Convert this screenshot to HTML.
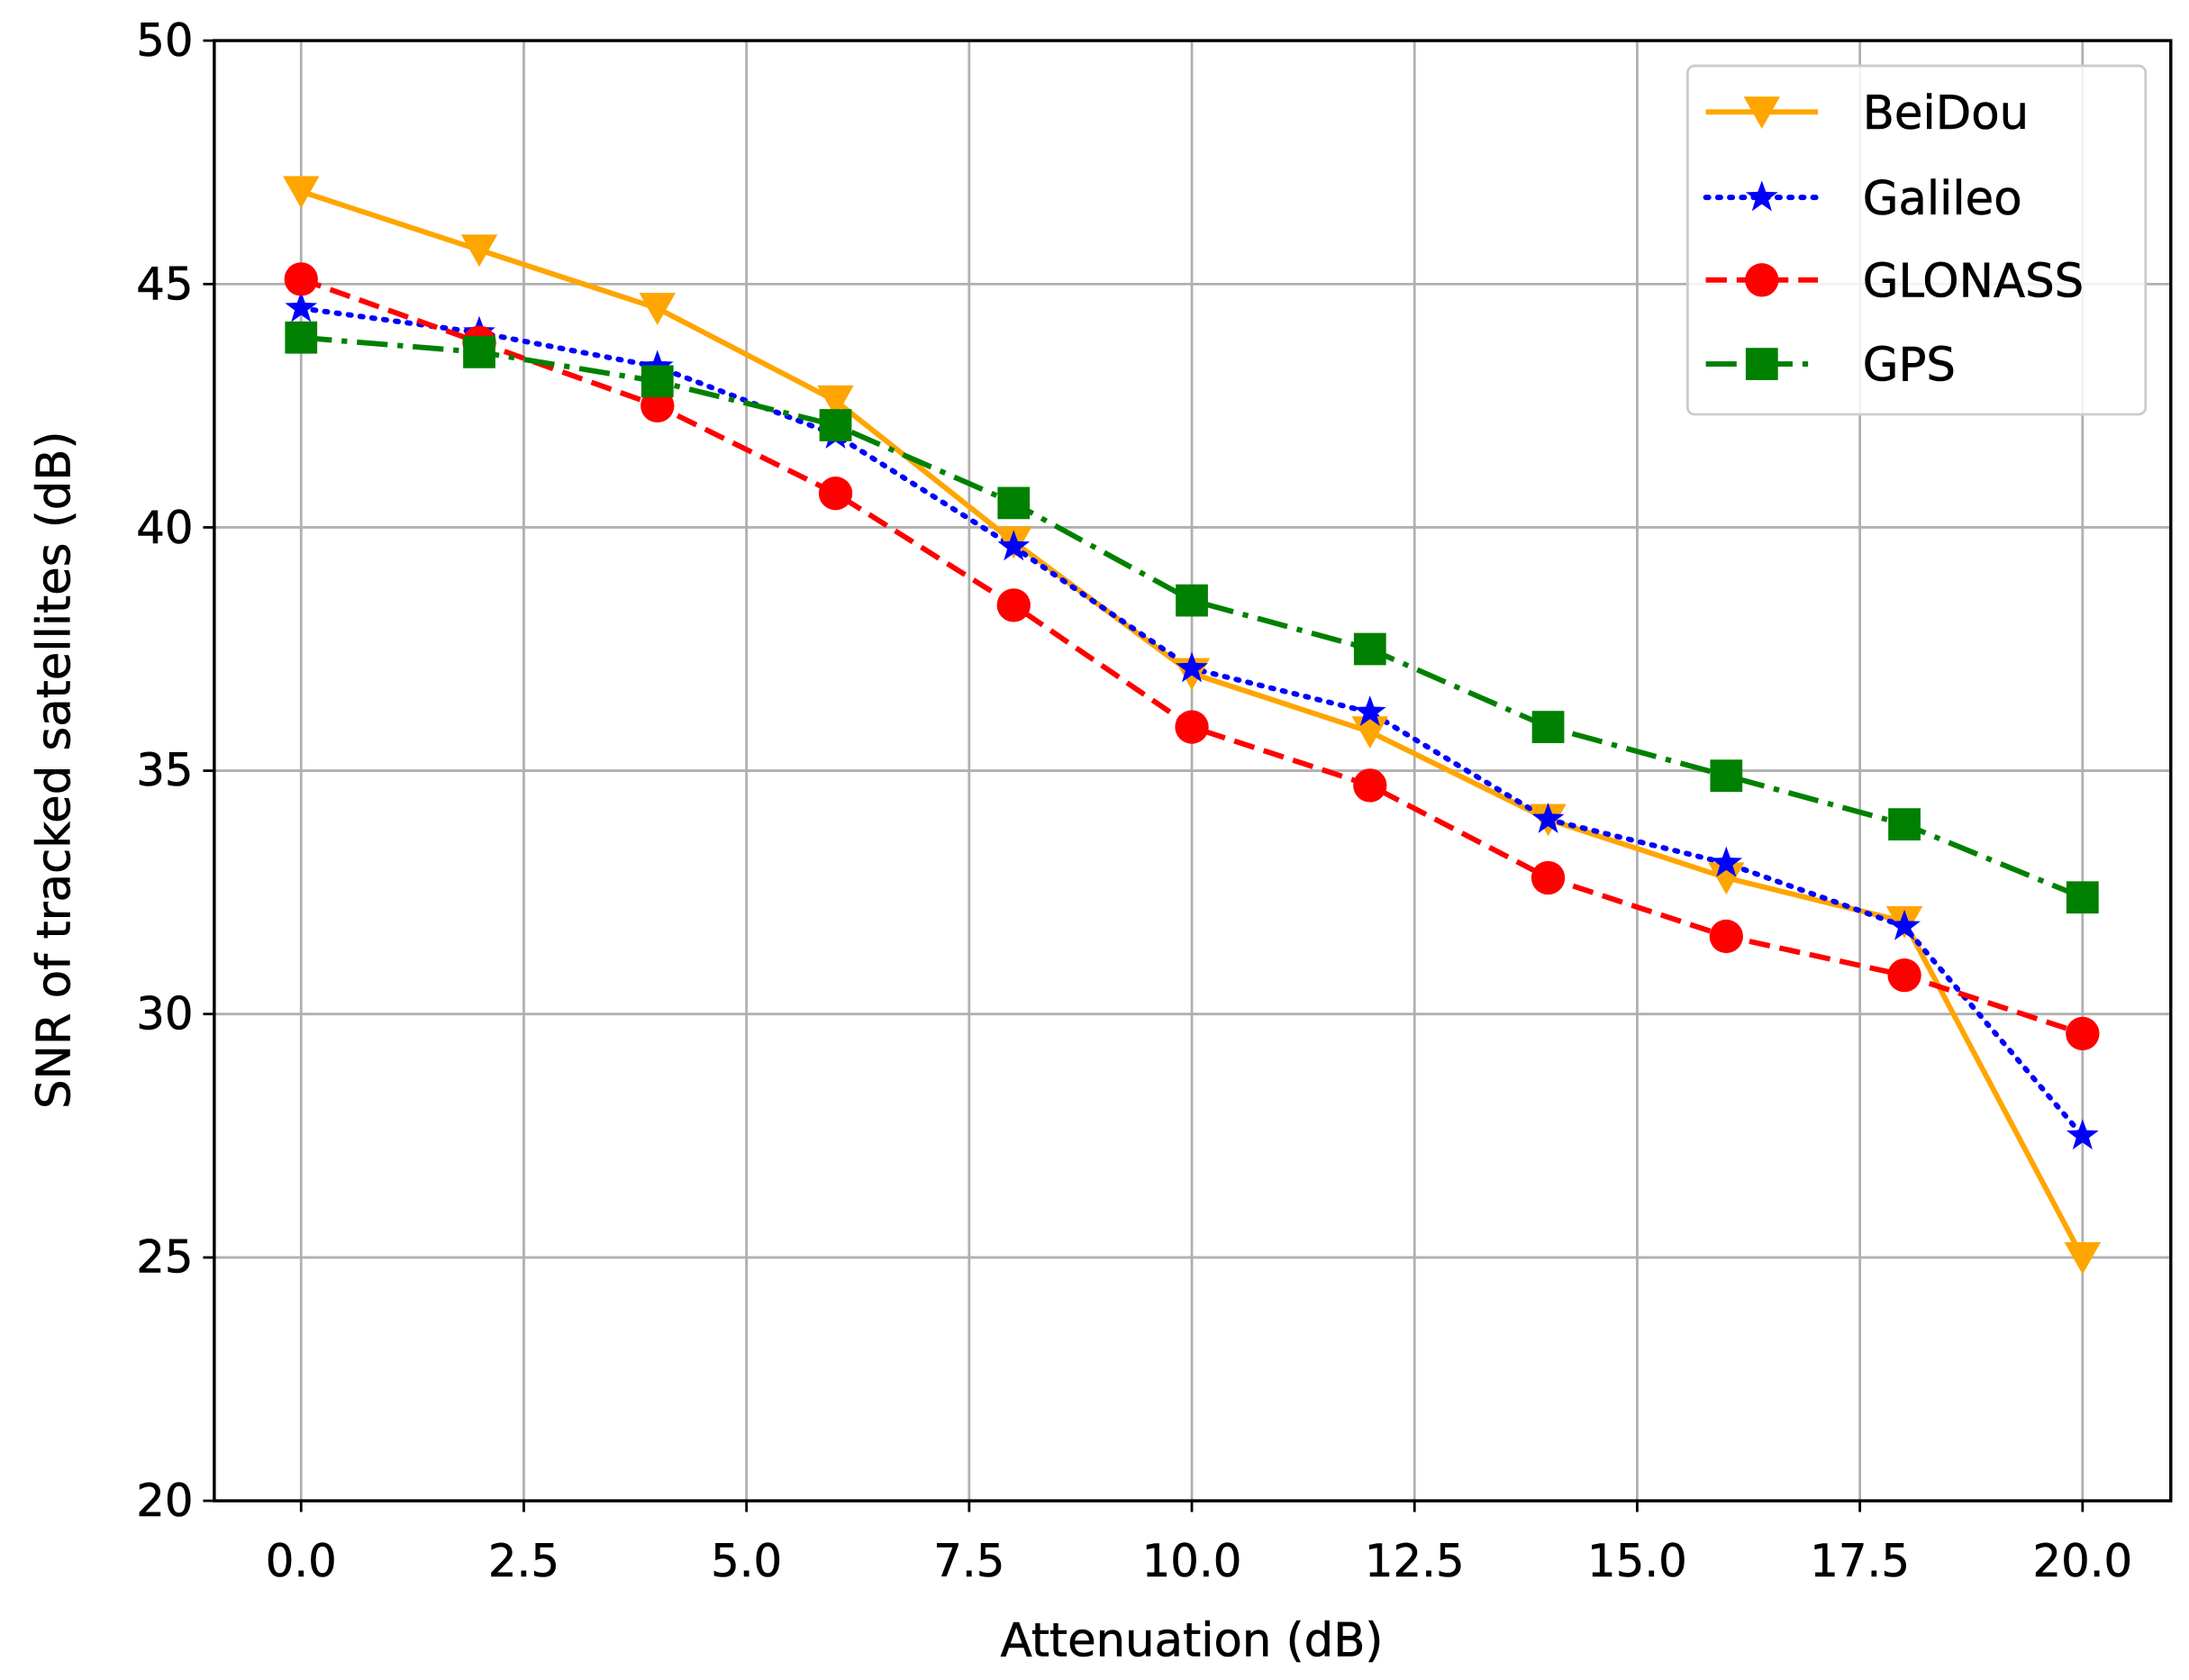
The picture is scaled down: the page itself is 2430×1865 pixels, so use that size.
<!DOCTYPE html>
<html><head><meta charset="utf-8"><style>html,body{margin:0;padding:0;background:#fff}svg{display:block}</style></head>
<body>
<svg width="2430" height="1865" viewBox="0 0 1563 1200" preserveAspectRatio="none" xmlns="http://www.w3.org/2000/svg" font-family="'DejaVu Sans','Liberation Sans',sans-serif">
<defs>
<path id="tri" d="M-13,-11 L13,-11 L0,12 Z" fill="orange"/>
<path id="star" d="M0,-12 L2.9,-4 L11.5,-3.7 L4.6,1.5 L7.1,9.8 L0,4.8 L-7.1,9.8 L-4.6,1.5 L-11.5,-3.7 L-2.9,-4 Z" fill="blue"/>
<circle id="cir" r="12" fill="red"/>
<rect id="sq" x="-11.5" y="-11.5" width="23" height="23" fill="green"/>
</defs>
<rect width="1563" height="1200" fill="#fff"/>
<g stroke="#b0b0b0" stroke-width="1.8">
<line x1="215" y1="29" x2="215" y2="1072"/><line x1="374" y1="29" x2="374" y2="1072"/><line x1="533" y1="29" x2="533" y2="1072"/><line x1="692" y1="29" x2="692" y2="1072"/><line x1="851" y1="29" x2="851" y2="1072"/><line x1="1010" y1="29" x2="1010" y2="1072"/><line x1="1169" y1="29" x2="1169" y2="1072"/><line x1="1328" y1="29" x2="1328" y2="1072"/><line x1="1487" y1="29" x2="1487" y2="1072"/>
<line x1="153" y1="898.2" x2="1550" y2="898.2"/><line x1="153" y1="724.3" x2="1550" y2="724.3"/><line x1="153" y1="550.5" x2="1550" y2="550.5"/><line x1="153" y1="376.7" x2="1550" y2="376.7"/><line x1="153" y1="202.9" x2="1550" y2="202.9"/>
</g>
<g stroke="#000" stroke-width="1.8">
<line x1="215" y1="1072" x2="215" y2="1080"/><line x1="374" y1="1072" x2="374" y2="1080"/><line x1="533" y1="1072" x2="533" y2="1080"/><line x1="692" y1="1072" x2="692" y2="1080"/><line x1="851" y1="1072" x2="851" y2="1080"/><line x1="1010" y1="1072" x2="1010" y2="1080"/><line x1="1169" y1="1072" x2="1169" y2="1080"/><line x1="1328" y1="1072" x2="1328" y2="1080"/><line x1="1487" y1="1072" x2="1487" y2="1080"/>
<line x1="145" y1="1072" x2="153" y2="1072"/><line x1="145" y1="898.2" x2="153" y2="898.2"/><line x1="145" y1="724.3" x2="153" y2="724.3"/><line x1="145" y1="550.5" x2="153" y2="550.5"/><line x1="145" y1="376.7" x2="153" y2="376.7"/><line x1="145" y1="202.9" x2="153" y2="202.9"/><line x1="145" y1="29" x2="153" y2="29"/>
</g>
<g font-size="32" fill="#000" text-anchor="middle" stroke="#000" stroke-width="0.4">
<text x="215" y="1126">0.0</text><text x="374" y="1126">2.5</text><text x="533" y="1126">5.0</text><text x="692" y="1126">7.5</text><text x="851" y="1126">10.0</text><text x="1010" y="1126">12.5</text><text x="1169" y="1126">15.0</text><text x="1328" y="1126">17.5</text><text x="1487" y="1126">20.0</text>
</g>
<g font-size="32" fill="#000" text-anchor="end" stroke="#000" stroke-width="0.4">
<text x="138" y="1083">20</text><text x="138" y="909">25</text><text x="138" y="735">30</text><text x="138" y="561">35</text><text x="138" y="388">40</text><text x="138" y="214">45</text><text x="138" y="40">50</text>
</g>
<text x="851" y="1183" font-size="33" text-anchor="middle" stroke="#000" stroke-width="0.4">Attenuation (dB)</text>
<text transform="translate(50,550) rotate(-90)" font-size="33" text-anchor="middle" stroke="#000" stroke-width="0.4">SNR of tracked satellites (dB)</text>

<polyline fill="none" stroke="orange" stroke-width="3.8" points="215,136.8 342.2,178.5 469.4,220.2 596.6,286.3 723.8,387.1 851,481 978.2,522.7 1105.4,585.3 1232.6,627 1359.8,658.3 1487,898.3"/>
<polyline fill="none" stroke="blue" stroke-width="3.8" stroke-dasharray="2,6.5" stroke-linecap="round" points="215,220.2 342.2,237.6 469.4,262 596.6,310.6 723.8,390.6 851,477.5 978.2,508.8 1105.4,585.3 1232.6,616.6 1359.8,661.8 1487,811.3"/>
<polyline fill="none" stroke="red" stroke-width="3.8" stroke-dasharray="15,7" points="215,199.4 342.2,244.6 469.4,289.8 596.6,352.4 723.8,432.3 851,519.3 978.2,561 1105.4,627 1232.6,668.8 1359.8,696.6 1487,738.3"/>
<polyline fill="none" stroke="green" stroke-width="3.8" stroke-dasharray="22,7,4,7" points="215,241.1 342.2,251.5 469.4,272.4 596.6,303.7 723.8,359.3 851,428.9 978.2,463.6 1105.4,519.3 1232.6,554.1 1359.8,588.8 1487,641"/>

<g>
<use href="#tri" x="215" y="136.8"/><use href="#tri" x="342.2" y="178.5"/><use href="#tri" x="469.4" y="220.2"/><use href="#tri" x="596.6" y="286.3"/><use href="#tri" x="723.8" y="387.1"/><use href="#tri" x="851" y="481"/><use href="#tri" x="978.2" y="522.7"/><use href="#tri" x="1105.4" y="585.3"/><use href="#tri" x="1232.6" y="627"/><use href="#tri" x="1359.8" y="658.3"/><use href="#tri" x="1487" y="898.3"/>
<use href="#star" x="215" y="220.2"/><use href="#star" x="342.2" y="237.6"/><use href="#star" x="469.4" y="262"/><use href="#star" x="596.6" y="310.6"/><use href="#star" x="723.8" y="390.6"/><use href="#star" x="851" y="477.5"/><use href="#star" x="978.2" y="508.8"/><use href="#star" x="1105.4" y="585.3"/><use href="#star" x="1232.6" y="616.6"/><use href="#star" x="1359.8" y="661.8"/><use href="#star" x="1487" y="811.3"/>
<use href="#cir" x="215" y="199.4"/><use href="#cir" x="342.2" y="244.6"/><use href="#cir" x="469.4" y="289.8"/><use href="#cir" x="596.6" y="352.4"/><use href="#cir" x="723.8" y="432.3"/><use href="#cir" x="851" y="519.3"/><use href="#cir" x="978.2" y="561"/><use href="#cir" x="1105.4" y="627"/><use href="#cir" x="1232.6" y="668.8"/><use href="#cir" x="1359.8" y="696.6"/><use href="#cir" x="1487" y="738.3"/>
<use href="#sq" x="215" y="241.1"/><use href="#sq" x="342.2" y="251.5"/><use href="#sq" x="469.4" y="272.4"/><use href="#sq" x="596.6" y="303.7"/><use href="#sq" x="723.8" y="359.3"/><use href="#sq" x="851" y="428.9"/><use href="#sq" x="978.2" y="463.6"/><use href="#sq" x="1105.4" y="519.3"/><use href="#sq" x="1232.6" y="554.1"/><use href="#sq" x="1359.8" y="588.8"/><use href="#sq" x="1487" y="641"/>
</g>

<rect x="153" y="29" width="1397" height="1043" fill="none" stroke="#000" stroke-width="2.2"/>

<rect x="1205" y="47" width="327" height="249" rx="5" fill="#fff" fill-opacity="0.85" stroke="#ccc" stroke-width="1.8"/>
<line x1="1218" y1="80" x2="1298" y2="80" stroke="orange" stroke-width="3.8"/><use href="#tri" x="1258" y="80"/>
<line x1="1218" y1="141" x2="1298" y2="141" stroke="blue" stroke-width="3.8" stroke-dasharray="2,6.5" stroke-linecap="round"/><use href="#star" x="1258" y="141"/>
<line x1="1218" y1="200" x2="1298" y2="200" stroke="red" stroke-width="3.8" stroke-dasharray="15,7"/><use href="#cir" x="1258" y="200"/>
<line x1="1218" y1="260" x2="1298" y2="260" stroke="green" stroke-width="3.8" stroke-dasharray="22,7,4,7"/><use href="#sq" x="1258" y="260"/>
<g font-size="33" fill="#000" stroke="#000" stroke-width="0.4">
<text x="1330" y="92">BeiDou</text><text x="1330" y="153">Galileo</text><text x="1330" y="212">GLONASS</text><text x="1330" y="272">GPS</text>
</g>
</svg>
</body></html>
